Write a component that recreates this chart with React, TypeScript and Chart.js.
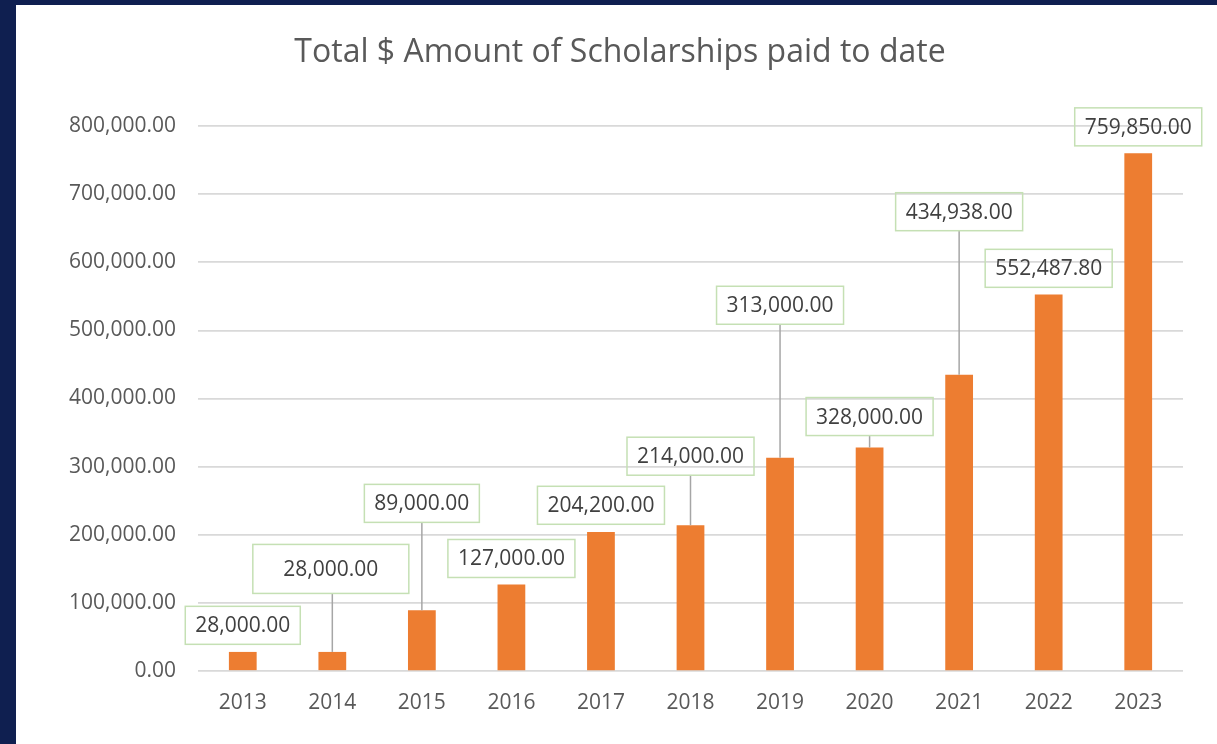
import React, { useEffect, useRef } from "react";
import { Chart, registerables } from "chart.js";

Chart.register(...registerables);

const chartTitle = "Total $ Amount of Scholarships paid to date";
const years = ["2013", "2014", "2015", "2016", "2017", "2018", "2019", "2020", "2021", "2022", "2023"];
const amounts = [28000, 28000, 89000, 127000, 204200, 214000, 313000, 328000, 434938, 552487.8, 759850];
const yTickValues = [0, 100000, 200000, 300000, 400000, 500000, 600000, 700000, 800000];

// label box placement relative to the top of each bar (pixels)
const labelDx = [0, -1.5, 0, 0, 0, 0, 0, 0, 0, 0, 0];
const labelDy = [-26.6, -83, -107, -26, -26.6, -69, -152.5, -31, -163, -26.3, -26.5];
const labelExtraW = [0, 41, 0, 0, 0, 0, 0, 0, 0, 0, 0];
const labelExtraH = [0, 11, 0, 0, 0, 0, 0, 0, 0, 0, 0];

const FONT = '"Open Sans", "Noto Sans", sans-serif';

const fmt = (v: number) =>
  v.toLocaleString("en-US", { minimumFractionDigits: 2, maximumFractionDigits: 2 });

const titlePlugin = {
  id: "customTitle",
  afterDraw(chart: any) {
    const ctx = chart.ctx as CanvasRenderingContext2D;
    ctx.save();
    ctx.font = `32px ${FONT}`;
    ctx.fillStyle = "#595959";
    ctx.textAlign = "center";
    ctx.textBaseline = "alphabetic";
    ctx.fillText(chartTitle, 604, 57);
    ctx.restore();
  },
};

const labelPlugin = {
  id: "boxLabels",
  afterDatasetsDraw(chart: any) {
    const ctx = chart.ctx as CanvasRenderingContext2D;
    const meta = chart.getDatasetMeta(0);
    ctx.save();
    ctx.font = `21px ${FONT}`;
    meta.data.forEach((bar: any, i: number) => {
      const { x, y } = bar.getProps(["x", "y"], true);
      const text = fmt(amounts[i]);
      const tw = ctx.measureText(text).width;
      const w = tw + 20 + labelExtraW[i];
      const h = 38 + labelExtraH[i];
      const cx = x + labelDx[i];
      const cy = y + labelDy[i];
      const bottom = cy + h / 2;
      if (y - bottom > 10) {
        ctx.strokeStyle = "#a6a6a6";
        ctx.lineWidth = 1.5;
        ctx.beginPath();
        ctx.moveTo(x, bottom);
        ctx.lineTo(x, y);
        ctx.stroke();
      }
      ctx.strokeStyle = "#c5e0b4";
      ctx.lineWidth = 1.5;
      ctx.strokeRect(cx - w / 2, cy - h / 2, w, h);
      ctx.fillStyle = "#404040";
      ctx.textAlign = "center";
      ctx.textBaseline = "middle";
      ctx.fillText(text, cx, cy + 1);
    });
    ctx.restore();
  },
};

export default function App() {
  const ref = useRef<HTMLCanvasElement | null>(null);

  useEffect(() => {
    if (!ref.current) return;
    const chart = new Chart(ref.current, {
      type: "bar",
      data: {
        labels: years,
        datasets: [
          {
            data: amounts,
            backgroundColor: "#ED7D31",
            borderWidth: 0,
            barPercentage: 0.31,
            categoryPercentage: 1,
          },
        ],
      },
      options: {
        responsive: false,
        animation: false,
        layout: { padding: { top: 121, right: 34, left: 0, bottom: 0 } },
        plugins: {
          legend: { display: false },
          tooltip: { enabled: false },
          title: { display: false },
        },
        scales: {
          x: {
            grid: { display: false, drawTicks: false },
            border: { display: false },
            ticks: { color: "#595959", font: { family: FONT, size: 21 }, padding: 19 },
            afterFit: (s: any) => {
              s.height = 73;
            },
          },
          y: {
            min: 0,
            max: 800000,
            afterBuildTicks: (s: any) => {
              s.ticks = yTickValues.map((v) => ({ value: v }));
            },
            ticks: {
              color: "#595959",
              font: { family: FONT, size: 21 },
              padding: 22,
              callback: (v: any) => fmt(Number(v)),
            },
            grid: { color: "#d9d9d9", lineWidth: 1.75, drawTicks: false },
            border: { display: false },
            afterFit: (s: any) => {
              s.width = 182;
            },
          },
        },
      },
      plugins: [labelPlugin, titlePlugin],
    });
    return () => chart.destroy();
  }, []);

  return (
    <div style={{ position: "fixed", inset: 0, background: "#0f1f50" }}>
      <div
        style={{
          position: "absolute",
          left: 16,
          top: 5,
          right: 0,
          bottom: 0,
          background: "#ffffff",
        }}
      >
        <canvas ref={ref} width={1201} height={739} style={{ display: "block" }} />
      </div>
    </div>
  );
}
